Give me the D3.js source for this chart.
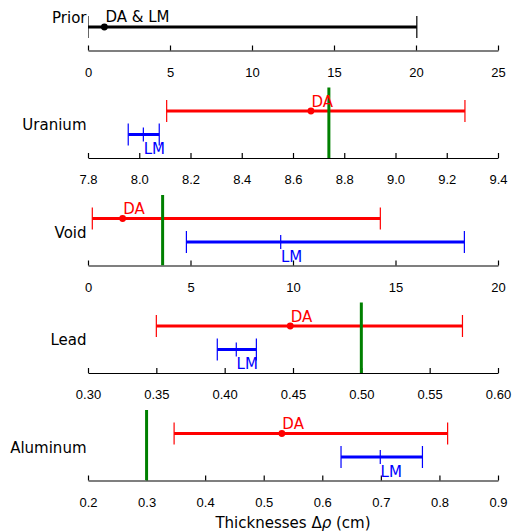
<!DOCTYPE html>
<meta charset="utf-8">
<style>
body { margin: 0; background: #fff; }
svg { font-family: "DejaVu Sans", sans-serif; }
.axis path, .axis line { stroke: #000; stroke-width: 1.2; }
.axis text { font-size: 13px; fill: #000; }
.lab { font-size: 15px; }
</style>
<svg width="514" height="531"></svg>
<script src="https://cdn.jsdelivr.net/npm/d3@7"></script>
<script>

// panel names and x-axis setup
var names = ["Prior", "Uranium", "Void", "Lead", "Aluminum"];
var domains = [[0, 25], [7.8, 9.4], [0, 20], [0.30, 0.60], [0.2, 0.9]];
var ticks = [
  [0, 5, 10, 15, 20, 25],
  [7.8, 8.0, 8.2, 8.4, 8.6, 8.8, 9.0, 9.2, 9.4],
  [0, 5, 10, 15, 20],
  [0.30, 0.35, 0.40, 0.45, 0.50, 0.55, 0.60],
  [0.2, 0.3, 0.4, 0.5, 0.6, 0.7, 0.8, 0.9]
];
var tickFormats = ["d", ".1f", "d", ".2f", ".1f"];

// estimates: [low, point, high]
var prior = [0, 1.0, 20.05];
var da = [null, [8.107, 8.670, 9.271], [0.21, 1.69, 14.26], [0.350, 0.448, 0.574], [0.347, 0.531, 0.814]];
var lm = [null, [7.957, 8.016, 8.078], [4.80, 9.40, 18.36], [0.3946, 0.4085, 0.4232], [0.632, 0.699, 0.771]];
var truth = [null, 8.74, 3.64, 0.500, 0.300];

var svg = d3.select("svg"),
    left = 88, right = 498,
    firstAxis = 50.5, step = 107.5, panelH = 70.5;

names.forEach(function(name, i) {
  var axisY = firstAxis + i * step;
  var x = d3.scaleLinear().domain(domains[i]).range([left, right]);
  var y = d3.scaleLinear().domain([-1, 2]).range([axisY, axisY - panelH]);

  var g = svg.append("g");

  g.append("clipPath").attr("id", "clip" + i)
    .append("rect")
      .attr("x", left).attr("y", axisY - panelH - 30)
      .attr("width", right - left).attr("height", panelH + 30);

  var ax = g.append("g")
      .attr("class", "axis")
      .attr("transform", "translate(0," + axisY + ")")
      .call(d3.axisBottom(x).tickValues(ticks[i]).tickFormat(d3.format(tickFormats[i]))
        .tickSize(-5).tickSizeOuter(0).tickPadding(0));
  ax.selectAll("text").attr("y", 26).attr("dy", null);

  g.append("text")
      .attr("class", "lab")
      .attr("x", left - 1.5)
      .attr("y", axisY - 28)
      .attr("text-anchor", "end")
      .text(name);

  var plot = g.append("g").attr("clip-path", "url(#clip" + i + ")");

  function errbar(v, row, color, marker) {
    var yy = y(row);
    plot.append("line")
        .attr("x1", x(v[0])).attr("x2", x(v[2]))
        .attr("y1", yy).attr("y2", yy)
        .attr("stroke", color).attr("stroke-width", 3);
    [v[0], v[2]].forEach(function(c) {
      plot.append("line")
          .attr("x1", x(c)).attr("x2", x(c))
          .attr("y1", yy - 11).attr("y2", yy + 11)
          .attr("stroke", color).attr("stroke-width", 1.2);
    });
    if (marker == "dot") {
      plot.append("circle")
          .attr("cx", x(v[1])).attr("cy", yy).attr("r", 3.4)
          .attr("fill", color);
    } else {
      plot.append("line")
          .attr("x1", x(v[1])).attr("x2", x(v[1]))
          .attr("y1", yy - 7).attr("y2", yy + 7)
          .attr("stroke", color).attr("stroke-width", 1.2);
    }
  }

  if (i == 0) {
    errbar(prior, 0, "#000", "dot");
    g.append("text").attr("class", "lab")
        .attr("x", x(prior[1]) + 1).attr("y", y(0) - 4.7)
        .text("DA & LM");
    return;
  }

  errbar(da[i], 1, "#ff0000", "dot");
  errbar(lm[i], 0, "#0000ff", "tick");

  plot.append("line")
      .attr("x1", x(truth[i])).attr("x2", x(truth[i]))
      .attr("y1", y(2)).attr("y2", y(-1))
      .attr("stroke", "#008000").attr("stroke-width", 3);

  g.append("text").attr("class", "lab")
      .attr("x", x(da[i][1]) + 0.5).attr("y", y(1) - 4.5)
      .attr("fill", "#ff0000")
      .text("DA");
  g.append("text").attr("class", "lab")
      .attr("x", x(lm[i][1]) + 0.3).attr("y", y(0) + 19.5)
      .attr("fill", "#0000ff")
      .text("LM");
});

var title = svg.append("text")
    .attr("class", "lab")
    .attr("x", (left + right) / 2)
    .attr("y", 528)
    .attr("text-anchor", "middle");
title.append("tspan").text("Thicknesses Δ");
title.append("tspan").attr("font-style", "italic").text("ρ");
title.append("tspan").text(" (cm)");

</script>
